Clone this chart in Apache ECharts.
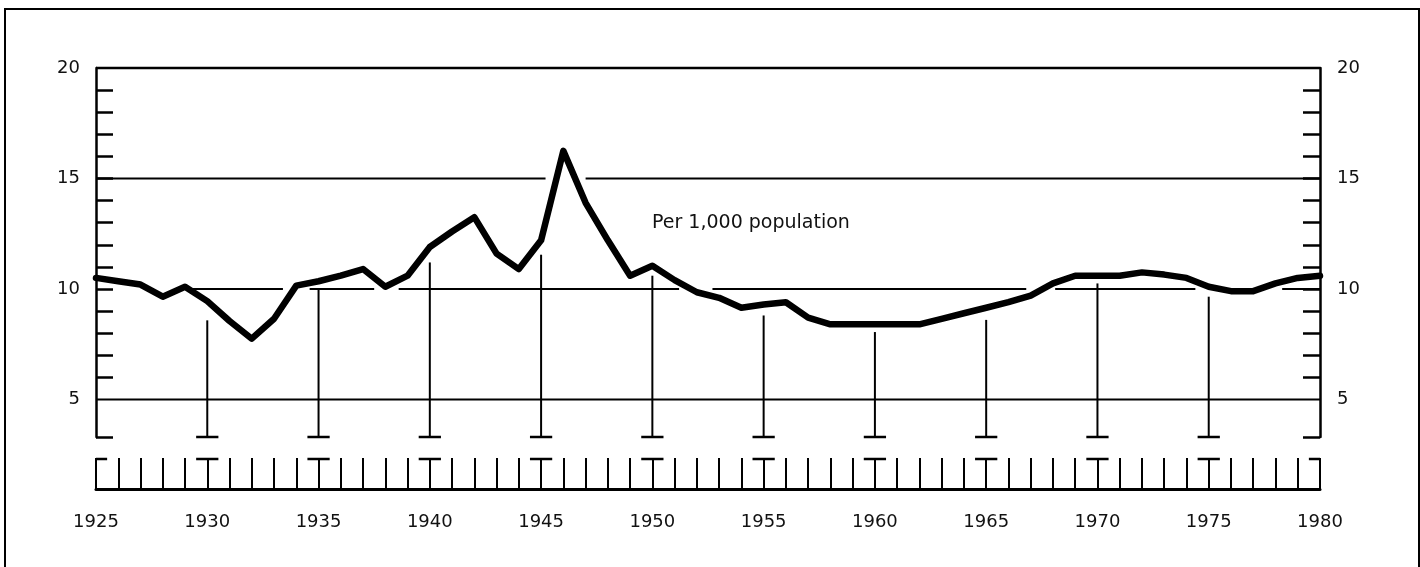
<!DOCTYPE html>
<html>
<head>
<meta charset="utf-8">
<script src="https://cdn.jsdelivr.net/npm/echarts@6/dist/echarts.min.js"></script>
<style>
html,body{margin:0;padding:0;background:#fff;}
#chart{width:1420px;height:567px;}
</style>
</head>
<body>
<div id="chart"></div>
<script>
// ---- data ----
const years = [1925,1926,1927,1928,1929,1930,1931,1932,1933,1934,1935,1936,1937,1938,1939,
  1940,1941,1942,1943,1944,1945,1946,1947,1948,1949,1950,1951,1952,1953,1954,1955,1956,1957,
  1958,1959,1960,1961,1962,1963,1964,1965,1966,1967,1968,1969,1970,1971,1972,1973,1974,1975,
  1976,1977,1978,1979,1980];
const rates = [10.5,10.35,10.2,9.65,10.1,9.45,8.55,7.75,8.65,10.15,10.35,10.6,10.9,10.1,10.6,
  11.9,12.6,13.25,11.6,10.9,12.2,16.25,13.9,12.2,10.6,11.05,10.4,9.85,9.6,9.15,9.3,9.4,8.7,
  8.4,8.4,8.4,8.4,8.4,8.65,8.9,9.15,9.4,9.7,10.25,10.6,10.6,10.6,10.75,10.65,10.5,10.1,
  9.9,9.9,10.25,10.5,10.6];
const yearLabels = [1925,1930,1935,1940,1945,1950,1955,1960,1965,1970,1975,1980];
const yLabels = [5,10,15,20];
const yMinorTicks = [3.3,6,7,8,9,10,11,12,13,14,15,16,17,18,19];
// horizontal rule pieces: [fromYear, value, toYear]
const ruleSegments = [
  [1925,20,1980],
  [1925,15,1945.2],[1947.0,15,1980],
  [1929.2,10,1933.4],[1934.6,10,1937.5],[1938.6,10,1951.2],[1952.7,10,1966.8],
  [1968.1,10,1974.4],[1978.3,10,1980],
  [1925,5,1980]
];
const stemYears = [1930,1935,1940,1945,1950,1955,1960,1965,1970,1975];
const stemTops  = [8.58,10.0,11.2,11.55,10.6,8.8,8.05,8.6,10.25,9.65];
const capYears = [1925,1930,1935,1940,1945,1950,1955,1960,1965,1970,1975,1980];
const yMin = 3.3, yMax = 20, xMin = 1925, xMax = 1980;
const noteText = 'Per 1,000 population';

const FONT = 'DejaVu Sans';
const chart = echarts.init(document.getElementById('chart'), null, {renderer:'canvas'});

const seriesData = years.map((y,i)=>[y, rates[i]]);

const option = {
  animation:false,
  backgroundColor:'#fff',
  textStyle:{fontFamily:FONT},
  grid:[
    {left:96, right:100, top:68, height:369},
    {left:96, right:100, top:458, height:31}
  ],
  xAxis:[
    {gridIndex:0, type:'value', min:xMin, max:xMax, show:false},
    {gridIndex:1, type:'value', min:xMin, max:xMax, interval:1,
     axisLine:{show:true, lineStyle:{color:'#000', width:3}},
     axisTick:{show:true, inside:true, length:31, lineStyle:{color:'#000', width:2}},
     axisLabel:{customValues:yearLabels, margin:24, color:'#111', fontSize:18, fontFamily:FONT,
       formatter:function(v){return String(v);}},
     splitLine:{show:false}}
  ],
  yAxis:[
    {gridIndex:0, type:'value', min:yMin, max:yMax, position:'left',
     axisLine:{show:true, lineStyle:{color:'#000', width:2.5}},
     axisTick:{show:true, inside:true, length:17, customValues:yMinorTicks, lineStyle:{color:'#000', width:2.5}},
     axisLabel:{customValues:yLabels, margin:16, color:'#111', fontSize:18, fontFamily:FONT},
     splitLine:{show:false}},
    {gridIndex:0, type:'value', min:yMin, max:yMax, position:'right',
     axisLine:{show:true, lineStyle:{color:'#000', width:2.5}},
     axisTick:{show:true, inside:true, length:17, customValues:yMinorTicks, lineStyle:{color:'#000', width:2.5}},
     axisLabel:{customValues:yLabels, margin:17, color:'#111', fontSize:18, fontFamily:FONT},
     splitLine:{show:false}},
    {gridIndex:1, type:'value', min:0, max:1, show:false}
  ],
  graphic:[
    {type:'rect', shape:{x:5, y:9, width:1414, height:570}, style:{fill:null, stroke:'#000', lineWidth:2}, silent:true},
    {type:'text', left:652, top:214, style:{text:noteText, fill:'#111', font:'19px "DejaVu Sans"'}}
  ],
  series:[
    {
      type:'custom', xAxisIndex:0, yAxisIndex:0, data:ruleSegments, z:1, clip:false,
      renderItem:function(params, api){
        const p1 = api.coord([api.value(0), api.value(1)]);
        const p2 = api.coord([api.value(2), api.value(1)]);
        return {type:'line', shape:{x1:p1[0], y1:p1[1], x2:p2[0], y2:p2[1]},
          style:{stroke:'#000', lineWidth: api.value(1)===20 ? 2.5 : 2}};
      }
    },
    {
      type:'custom', xAxisIndex:0, yAxisIndex:0, z:1, clip:false,
      data: stemYears.map((y,i)=>[y, stemTops[i]]),
      renderItem:function(params, api){
        const yr = api.value(0), top = api.value(1);
        const pb = api.coord([yr, yMin]);
        const pt = api.coord([yr, top]);
        const cl = api.coord([yr-0.5, yMin]);
        const cr = api.coord([yr+0.5, yMin]);
        return {type:'group', children:[
          {type:'line', shape:{x1:pb[0], y1:pb[1], x2:pt[0], y2:pt[1]}, style:{stroke:'#000', lineWidth:2}},
          {type:'line', shape:{x1:cl[0], y1:cl[1], x2:cr[0], y2:cr[1]}, style:{stroke:'#000', lineWidth:2.5}}
        ]};
      }
    },
    {
      type:'line', xAxisIndex:0, yAxisIndex:0, data:seriesData, z:5,
      symbol:'none', smooth:false,
      lineStyle:{color:'#000', width:6.5, join:'round', cap:'round'}
    },
    {
      type:'custom', xAxisIndex:1, yAxisIndex:2, z:3, clip:false,
      data: capYears.map(y=>[y,1]),
      renderItem:function(params, api){
        const yr = api.value(0);
        const a = Math.max(xMin, yr-0.5), b = Math.min(xMax, yr+0.5);
        const pl = api.coord([a, 1]);
        const pr = api.coord([b, 1]);
        return {type:'line', shape:{x1:pl[0], y1:pl[1]+1, x2:pr[0], y2:pr[1]+1}, style:{stroke:'#000', lineWidth:2.5}};
      }
    }
  ]
};
chart.setOption(option);
</script>
</body>
</html>
